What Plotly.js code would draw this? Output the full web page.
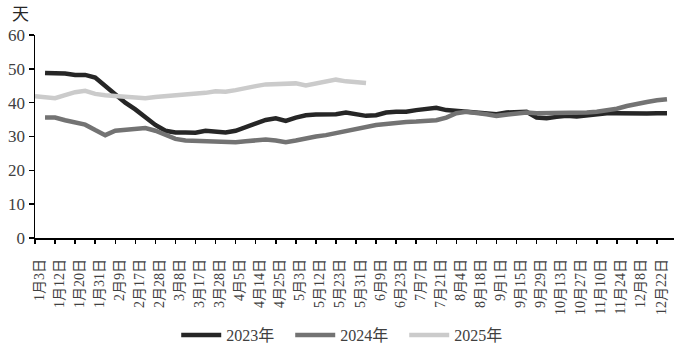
<!DOCTYPE html>
<html>
<head>
<meta charset="utf-8">
<script src="https://cdn.plot.ly/plotly-3.0.1.min.js"></script>
<style>
  html, body { margin: 0; padding: 0; background: #ffffff; }
  #chart { width: 676px; height: 354px; }
</style>
</head>
<body>
<div id="chart"></div>
<script>
// Tick labels (one every two data points)
const tickLabels = ["1月3日","1月12日","1月20日","1月31日","2月9日","2月17日","2月28日","3月8日",
  "3月17日","3月28日","4月5日","4月14日","4月25日","5月3日","5月12日","5月23日",
  "5月31日","6月9日","6月23日","7月7日","7月21日","8月4日","8月18日","9月1日",
  "9月15日","9月29日","10月13日","10月27日","11月10日","11月24日","12月8日","12月22日"];

const seriesNames = ["2023年", "2024年", "2025年"];

const values2023 = [null, 48.8, 48.8, 48.6, 48.2, 48.2, 47.4, 44.9, 42.2, 40.0, 38.0, 35.6, 33.4, 31.7, 31.2, 31.2,
  31.1, 31.7, 31.4, 31.2, 31.7, 32.7, 33.9, 34.9, 35.4, 34.6, 35.6, 36.3, 36.5, 36.5, 36.6, 37.1,
  36.5, 36.1, 36.3, 37.1, 37.3, 37.3, 37.8, 38.2, 38.5, 37.8, 37.6, 37.4, 37.1, 36.9, 36.6, 37.1,
  37.3, 37.3, 35.6, 35.4, 35.8, 36.1, 35.9, 36.3, 36.6, 36.9, 36.9, 36.8, 36.8, 36.8, 36.9, 36.9];

const values2024 = [null, 35.6, 35.6, 34.8, 34.1, 33.5, 31.9, 30.4, 31.7, 32.0, 32.2, 32.5, 31.7, 30.4, 29.3, 28.8,
  28.7, 28.6, 28.5, 28.3, 28.3, 28.6, 29.0, 29.1, 28.8, 28.3, 28.8, 29.5, 30.0, 30.4, 31.0, 31.7,
  32.4, 33.0, 33.4, 33.7, 34.1, 34.3, 34.4, 34.6, 34.8, 35.6, 36.9, 37.3, 37.1, 36.6, 36.1, 36.4,
  36.9, 37.1, 36.9, 36.9, 37.1, 37.1, 36.9, 37.1, 37.3, 37.6, 38.2, 39.0, 39.7, 40.2, 40.7, 41.0];

const values2025 = [41.9, 41.5, 41.3, 42.2, 43.1, 43.5, 42.6, 42.2, 41.9, 41.8, 41.5, 41.3, 41.7, 41.9, 42.2, 42.6,
  42.8, 42.9, 43.4, 43.2, 43.7, 44.4, 44.9, 45.4, 45.6, 45.7, 45.7, 45.1, 45.7, 46.3, 46.8, 46.3,
  46.0, 45.8];

const yTicks = [0, 10, 20, 30, 40, 50, 60];

const colors = ["#262626", "#737373", "#cbcbcb"];
const allValues = [values2023, values2024, values2025];

const traces = allValues.map((vals, s) => ({
  type: "scatter",
  mode: "lines",
  name: seriesNames[s],
  x: vals.map((_, i) => i),
  y: vals,
  line: { color: colors[s], width: 4.5 },
  connectgaps: false,
  hoverinfo: "skip"
}));

const nPoints = tickLabels.length * 2;
const xRange = [0, nPoints - 0.3];
const serif = "'Liberation Serif', 'Times New Roman', 'Noto Sans CJK SC', serif";

const layout = {
  width: 676,
  height: 354,
  margin: { l: 35, r: 2, t: 35, b: 114 },
  paper_bgcolor: "#ffffff",
  plot_bgcolor: "#ffffff",
  showlegend: true,
  legend: {
    orientation: "h",
    x: 0.221, xanchor: "left",
    y: -0.478, yanchor: "middle",
    font: { family: serif, size: 16, color: "#404040" },
    itemwidth: 40,
    entrywidth: 59,
    tracegroupgap: 0
  },
  xaxis: {
    type: "linear",
    range: xRange,
    tickmode: "array",
    tickvals: tickLabels.map((_, k) => 2 * k + 0.4),
    ticktext: tickLabels,
    ticks: "",
    tickangle: -90,
    ticklabelstandoff: 14,
    tickfont: { family: serif, size: 14, color: "#404040" },
    showline: true,
    linecolor: "#000000",
    linewidth: 1.5,
    showgrid: false,
    zeroline: false,
    fixedrange: true
  },
  xaxis2: {
    type: "linear",
    overlaying: "x",
    anchor: "y",
    side: "bottom",
    range: xRange,
    tickmode: "array",
    tickvals: tickLabels.map((_, k) => 2 * k),
    ticks: "outside",
    ticklen: 5,
    tickwidth: 1.5,
    tickcolor: "#000000",
    showticklabels: false,
    showline: false,
    showgrid: false,
    zeroline: false
  },
  yaxis: {
    range: [0, 60],
    tickmode: "array",
    tickvals: yTicks,
    ticks: "outside",
    ticklen: 5,
    tickwidth: 1.5,
    tickcolor: "#000000",
    tickfont: { family: serif, size: 17, color: "#404040" },
    showline: true,
    linecolor: "#000000",
    linewidth: 1.5,
    showgrid: false,
    zeroline: false,
    fixedrange: true
  },
  annotations: [{
    text: "天",
    xref: "paper", yref: "paper",
    x: 0, y: 1.0,
    xanchor: "right", yanchor: "bottom",
    xshift: -4, yshift: 8,
    showarrow: false,
    font: { family: "'Noto Sans CJK SC', sans-serif", size: 17, color: "#262626" }
  }]
};

// dummy trace on xaxis2 so the tick axis renders
traces.push({
  type: "scatter", mode: "lines", x: [0], y: [null], xaxis: "x2", yaxis: "y",
  showlegend: false, hoverinfo: "skip"
});

Plotly.newPlot("chart", traces, layout, { staticPlot: true, displayModeBar: false });
</script>
</body>
</html>
